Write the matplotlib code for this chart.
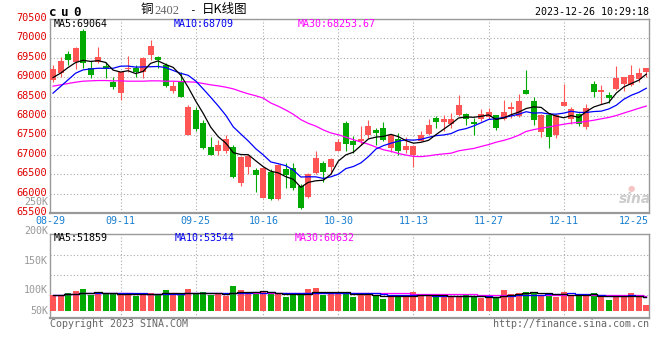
import numpy as np
import pandas as pd
import matplotlib
matplotlib.use('Agg')
import matplotlib.pyplot as plt
from matplotlib.transforms import ScaledTranslation, blended_transform_factory

# --- dados (cu2402, diário) ---
opens = [68923, 69102, 69590, 69384, 70190, 69230, 69402, 69290, 68888, 68589,
         69200, 69248, 69145, 69573, 69521, 69316, 68649, 68888, 67503, 68153,
         67811, 67196, 67093, 67110, 67204, 66264, 66683, 66606, 65896, 66563,
         65853, 66623, 66665, 66195, 65913, 66520, 66794, 66683, 67110, 67820,
         67350, 67358, 67503, 67649, 67691, 67178, 67409, 67136, 67007, 67367,
         67546, 67948, 67845, 67794, 68016, 68050, 67845, 67922, 67974, 68016,
         67922, 68179, 67990, 68675, 68376, 67589, 68033, 67520, 68264, 67922,
         68050, 67709, 68820, 68615, 68529, 68692, 68829, 68803, 68957, 69145]
highs = [69316, 69530, 69675, 69786, 70242, 69419, 69769, 69402, 69017, 69145,
         69547, 69316, 69530, 69949, 69556, 69359, 68906, 69128, 68273, 68222,
         67905, 67452, 67392, 67503, 67264, 66965, 67007, 66665, 66683, 66623,
         66751, 66777, 66777, 66238, 66537, 67093, 66853, 66922, 67418, 67862,
         67478, 67734, 67905, 67691, 67845, 67538, 67563, 67461, 67264, 67606,
         67931, 67990, 68033, 68076, 68547, 68076, 67948, 68179, 68205, 68033,
         68418, 68358, 68564, 69188, 68478, 68050, 68076, 68050, 68820, 68222,
         68076, 68307, 68906, 68803, 68615, 69290, 69017, 69316, 69230, 69248]
lows = [68871, 69017, 69316, 69200, 69248, 68991, 69359, 68974, 68700, 68418,
        69140, 69017, 68991, 69444, 69248, 68735, 68589, 68487, 67503, 67606,
        67161, 66990, 66990, 67050, 66392, 66195, 66495, 66050, 65879, 65828,
        65828, 66153, 66084, 65597, 65896, 66494, 66306, 66494, 67093, 67110,
        67050, 67264, 67435, 67264, 67367, 67067, 66990, 67050, 66691, 67350,
        67520, 67691, 67606, 67691, 67990, 67777, 67520, 67880, 67922, 67649,
        67905, 67948, 67965, 68572, 67760, 67461, 67178, 67435, 68247, 67794,
        67734, 67674, 68487, 68307, 68333, 68675, 68632, 68786, 68888, 69017]
closes = [69205, 69419, 69436, 69743, 69376, 69060, 69513, 69213, 68752, 69128,
          69230, 69145, 69487, 69795, 69444, 68769, 68769, 68487, 68230, 67674,
          67178, 66990, 67264, 67409, 66435, 66939, 66965, 66477, 66648, 65853,
          66726, 66477, 66135, 65622, 66494, 66922, 66554, 66896, 67332, 67290,
          67264, 67409, 67751, 67563, 67392, 67520, 67110, 67238, 67238, 67503,
          67777, 67845, 67922, 67922, 68273, 67922, 67794, 68050, 68102, 67691,
          68102, 68222, 68376, 68572, 67905, 68033, 67461, 68016, 68358, 68187,
          67794, 68205, 68615, 68675, 68461, 68991, 69000, 69060, 69102, 69248]
volumes = [60800, 60800, 67150, 73500, 83600, 58300, 64600, 64600, 64600, 64600,
           60800, 55700, 68400, 68400, 63400, 77300, 63400, 58300, 81100, 63400,
           72200, 60800, 63400, 54500, 92500, 77300, 64600, 72200, 71000, 68400,
           63400, 50700, 60800, 68400, 83600, 87400, 58300, 63400, 72200, 68400,
           53200, 63400, 63400, 60800, 45600, 55700, 55700, 55700, 72200, 55700,
           58300, 53200, 55700, 53200, 55700, 60800, 55700, 48100, 48100, 50700,
           79800, 64600, 68400, 72200, 68400, 55700, 68400, 50700, 72200, 58300,
           55700, 55700, 68400, 50700, 43100, 55700, 55700, 68400, 55700, 22800]

# médias móveis antes da janela visível
ma5_head = [68991, 69102, 69248, 69376]
ma10_head = [68589, 68760, 68931, 69102, 69188, 69213, 69230, 69230, 69230]
ma30_head = [68769, 68803, 68837, 68871, 68897, 68906, 68914, 68914, 68906, 68906,
             68897, 68897, 68897, 68906, 68906, 68897, 68897, 68888, 68880, 68871,
             68837, 68803, 68777, 68743, 68700, 68632, 68572, 68521, 68461]

date_idx = [0, 9, 19, 28, 38, 48, 58, 68, 78]
date_labels = ['08-29', '09-11', '09-25', '10-16', '10-30', '11-13', '11-27', '12-11', '12-25']
price_ticks = list(range(65500, 70501, 500))
vol_labels = ['250K', '200K', '150K', '100K', '50K']

RED, GREEN = '#ff5555', '#00aa00'
GRID = '#aaaaaa'
MONO = 'DejaVu Sans Mono'

W, H = 660, 360
fig = plt.figure(figsize=(W / 100, H / 100), dpi=100)
fig.patch.set_facecolor('white')

def fx(x):
    return x / W

def fy(y):
    return 1 - y / H

ax = fig.add_axes([fx(50), fy(213), fx(649) - fx(50), fy(19) - fy(213)])
axv = fig.add_axes([fx(50), fy(318), fx(649) - fx(50), fy(234) - fy(318)])

n = len(closes)
idx = np.arange(n)
o = np.array(opens); c = np.array(closes)
hi = np.array(highs); lo = np.array(lows)
up = c >= o
cores = np.where(up, RED, GREEN)

# --- velas ---
ax.vlines(idx, lo, hi, color=cores, linewidth=0.8, zorder=3)
corpo = np.maximum(np.abs(c - o), 20)
ax.bar(idx, corpo, bottom=np.minimum(o, c), width=0.8, color=cores, zorder=4)

# --- médias móveis ---
s = pd.Series(closes, dtype=float)
ma5 = s.rolling(5).mean().values
ma10 = s.rolling(10).mean().values
ma30 = s.rolling(30).mean().values
ma5[:4] = ma5_head
ma10[:9] = ma10_head
ma30[:29] = ma30_head
ax.plot(idx, ma30, color='#ff00ff', linewidth=0.9, zorder=5)
ax.plot(idx, ma10, color='#0000ff', linewidth=0.9, zorder=5)
ax.plot(idx, ma5, color='black', linewidth=0.9, zorder=6)

ax.set_xlim(-0.4, 79.36)
ax.set_ylim(65500, 70500)
ax.set_yticks(price_ticks)
ax.set_xticks(date_idx[1:-1])
ax.set_xticklabels([])
ax.grid(True, color=GRID, linestyle=(0, (1, 2)), linewidth=0.8)
ax.set_axisbelow(True)
ax.tick_params(length=0, pad=2)
for lab in ax.get_yticklabels():
    lab.set_color('#e00000')
    lab.set_fontfamily(MONO)
    lab.set_fontsize(7.4)
    lab.set_transform(lab.get_transform() + ScaledTranslation(0, 2 / 100, fig.dpi_scale_trans))

# datas no eixo x
bt = blended_transform_factory(ax.transData, ax.transAxes)
for i, lab in zip(date_idx, date_labels):
    xpos, ha = i, 'center'
    if i == date_idx[0]:
        xpos = -0.4
    if i == date_idx[-1]:
        xpos, ha = 79.36, 'right'
    ax.text(xpos, -0.041, lab, transform=bt, ha=ha, va='center', color='#1a7fd0',
            fontfamily=MONO, fontsize=7.2, clip_on=False)

# --- volume ---
axv.bar(idx, volumes, width=0.8, color=cores, zorder=3)
sv = pd.Series(volumes, dtype=float)
for win, cor in [(30, '#ff00ff'), (10, '#0000ff'), (5, 'black')]:
    axv.plot(idx, sv.rolling(win, min_periods=1).mean().values, color=cor,
             linewidth=0.9, drawstyle='steps-mid', zorder=4)
axv.set_xlim(-0.4, 79.36)
axv.set_ylim(-26250, 288750)
axv.set_yticks([60000, 135000, 210000])
axv.set_xticks(date_idx[1:-1])
axv.set_xticklabels([])
axv.set_yticklabels([])
axv.grid(True, color=GRID, linestyle=(0, (1, 2)), linewidth=0.8)
axv.set_axisbelow(True)
axv.tick_params(length=0)

for a in (ax, axv):
    for sp in a.spines.values():
        sp.set_color('#999999')
        sp.set_linewidth(1.0)
    a.spines['bottom'].set_linewidth(1.6)

# --- textos ---
def txt(x, y, s, **kw):
    kw.setdefault('fontfamily', MONO)
    kw.setdefault('fontsize', 7.2)
    kw.setdefault('va', 'center')
    fig.text(fx(x), fy(y), s, **kw)

for xx, ch in zip([49, 61, 73], 'cu0'):
    txt(xx, 12, ch, fontweight='bold', fontsize=9)
txt(141, 10, '铜', fontfamily=['Noto Sans CJK SC', 'DejaVu Sans'], fontsize=9)
txt(154, 11, '2402', fontfamily='Liberation Serif', fontsize=9, color='#666666')
txt(192, 10, '-', ha='center', fontsize=8)
txt(202, 10, '日K线图', fontfamily=['Noto Sans CJK SC', 'DejaVu Sans'], fontsize=9)
txt(649, 12, '2023-12-26 10:29:18', ha='right')

txt(54, 24, 'MA5:69064', color='black')
txt(174, 24, 'MA10:68709', color='#0000ee')
txt(298, 24, 'MA30:68253.67', color='#ff00ff')

txt(54, 238, 'MA5:51859', color='black')
txt(175, 238, 'MA10:53544', color='#0000ee')
txt(295, 238, 'MA30:60632', color='#ff00ff')

for yy, lab in zip([202, 231, 261, 290, 311], vol_labels):
    txt(48, yy, lab, ha='right', color='#999999', fontsize=7.2)

txt(50, 324, 'Copyright 2023 SINA.COM', color='#666666')
txt(649, 324, 'http://finance.sina.com.cn', ha='right', color='#666666')

# marca d'água
txt(631, 188, '●', ha='center', fontfamily='DejaVu Sans', fontsize=6, color='#f5c4c4')
txt(635, 199, 'sina', ha='center', fontfamily='DejaVu Sans', fontsize=10,
    style='italic', fontweight='bold', color='#cccccc')

fig.savefig('out.png', dpi=100, facecolor='white')
